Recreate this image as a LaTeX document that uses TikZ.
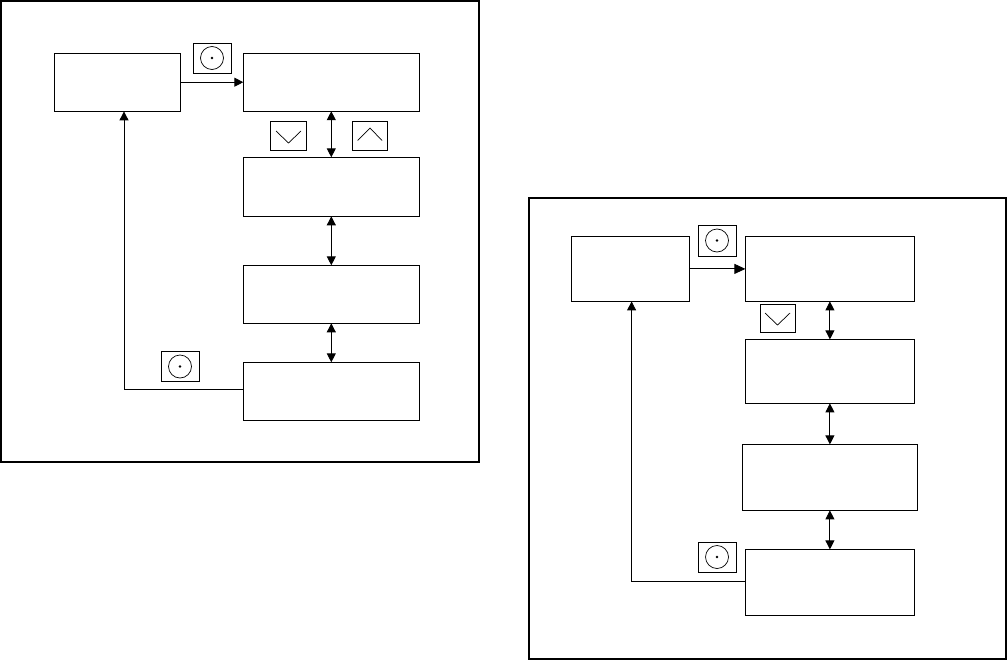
\documentclass[tikz,border=0pt]{standalone}
\usetikzlibrary{arrows.meta}
\tikzset{
  panel/.style={draw=black,line width=1.7pt,inner sep=0pt,outer sep=0pt},
  menubox/.style={draw=black,line width=1pt,inner sep=0pt,outer sep=0pt},
  keybox/.style={draw=black,line width=0.9pt,inner sep=0pt,outer sep=0pt,minimum width=36pt},
  keyring/.style={circle,draw=black,line width=0.7pt,inner sep=0pt,minimum size=23pt},
  keydot/.style={circle,fill=black,inner sep=0pt,minimum size=2.6pt},
  chev/.style={draw=black,line width=0.7pt},
  flow/.style={draw=black,line width=0.9pt,-{Triangle[length=9pt,width=9pt]}},
  flowlarge/.style={draw=black,line width=0.9pt,-{Triangle[length=11pt,width=10pt]}},
  both/.style={draw=black,line width=0.9pt,{Triangle[length=9pt,width=9pt]}-{Triangle[length=9pt,width=9pt]}}
}
\begin{document}
\begin{tikzpicture}[x=1pt,y=-1pt]
\useasboundingbox (0,0) rectangle (1008,661);
% left panel
\node[panel,minimum width=478pt,minimum height=461pt] (lp) at (240,231.2) {};
\node[menubox,minimum width=126pt,minimum height=58pt] (la) at (117,82.2) {};
\node[menubox,minimum width=176pt,minimum height=58pt] (lb) at (331.3,82.2) {};
\node[menubox,minimum width=176pt,minimum height=59pt] (lc) at (331.3,186.8) {};
\node[menubox,minimum width=176pt,minimum height=58pt] (ld) at (331.3,294.3) {};
\node[menubox,minimum width=176pt,minimum height=58pt] (le) at (331.3,391.3) {};
\node[keybox,minimum width=38pt,minimum height=30pt] (lk1) at (212,58) {};
\node[keyring] (lr1) at (lk1.center) {};
\node[keydot] (ld1) at (lk1.center) {};
\node[keybox,minimum width=36pt,minimum height=29pt] (lk2) at (288,136) {};
\node[keybox,minimum width=35pt,minimum height=29pt] (lk3) at (369.5,136) {};
\node[keybox,minimum width=38pt,minimum height=30pt] (lk4) at (180,366.5) {};
\node[keyring] (lr4) at (lk4.center) {};
\node[keydot] (ld4) at (lk4.center) {};
\draw[chev] (276,131) -- (288.5,143) -- (301,131);
\draw[chev] (357.5,140.5) -- (370,128) -- (382,140.5);
\coordinate (lup) at (124,111.4);
\draw[flow] (la) -- (lb);
\draw[both] (lb) -- (lc);
\draw[both] (lc) -- (ld);
\draw[both] (ld) -- (le);
\draw[flow] ([yshift=1.5pt]le.west) -| (lup);
% right panel
\node[panel,minimum width=477pt,minimum height=461pt] (rp) at (767.8,428.8) {};
\node[menubox,minimum width=118pt,minimum height=65pt] (ra) at (630.4,268.9) {};
\node[menubox,minimum width=169pt,minimum height=65pt] (rb) at (829.9,268.9) {};
\node[menubox,minimum width=169pt,minimum height=64pt] (rc) at (829.9,371.4) {};
\node[menubox,minimum width=175pt,minimum height=66pt] (rd) at (829.9,477.4) {};
\node[menubox,minimum width=169pt,minimum height=66pt] (re) at (829.9,582.4) {};
\node[keybox,minimum width=38pt,minimum height=31pt] (rk1) at (717,240.5) {};
\node[keyring] (rr1) at (rk1.center) {};
\node[keydot] (rd1) at (rk1.center) {};
\node[keybox,minimum width=35pt,minimum height=28pt] (rk2) at (777.5,318) {};
\node[keybox,minimum width=38pt,minimum height=30pt] (rk3) at (717,557) {};
\node[keyring] (rr3) at (rk3.center) {};
\node[keydot] (rd3) at (rk3.center) {};
\draw[chev] (765,313) -- (777.5,325) -- (790,313);
\coordinate (rup) at (631.6,301.4);
\draw[flowlarge] (ra) -- (rb);
\draw[both] (rb) -- (rc);
\draw[both] (rc) -- (rd);
\draw[both] (rd) -- (re);
\draw[flow] ([yshift=1pt]re.west) -| (rup);
\end{tikzpicture}
\end{document}
